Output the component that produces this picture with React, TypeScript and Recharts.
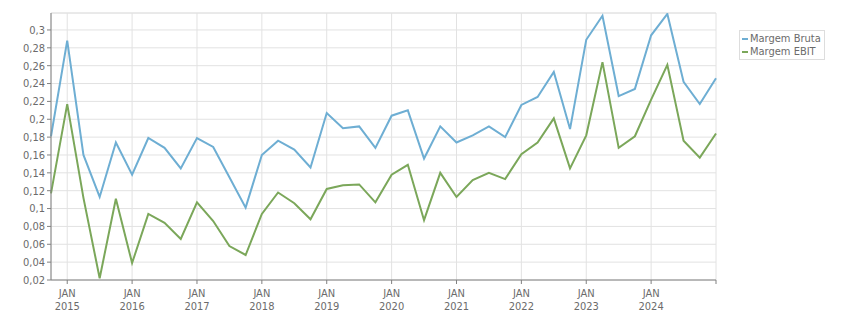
import { LineChart, Line, XAxis, YAxis, CartesianGrid, ReferenceLine } from 'recharts';

const FONT = "'DejaVu Sans Condensed', 'DejaVu Sans', sans-serif";

// trimestres, de out/2014 a jan/2025
const periods = [
  '2014-10',
  '2015-01', '2015-04', '2015-07', '2015-10',
  '2016-01', '2016-04', '2016-07', '2016-10',
  '2017-01', '2017-04', '2017-07', '2017-10',
  '2018-01', '2018-04', '2018-07', '2018-10',
  '2019-01', '2019-04', '2019-07', '2019-10',
  '2020-01', '2020-04', '2020-07', '2020-10',
  '2021-01', '2021-04', '2021-07', '2021-10',
  '2022-01', '2022-04', '2022-07', '2022-10',
  '2023-01', '2023-04', '2023-07', '2023-10',
  '2024-01', '2024-04', '2024-07', '2024-10',
  '2025-01',
];

const margemBruta = [
  0.181,
  0.288, 0.160, 0.113, 0.174,
  0.138, 0.179, 0.168, 0.145,
  0.179, 0.169, 0.135, 0.101,
  0.160, 0.176, 0.166, 0.146,
  0.207, 0.190, 0.192, 0.168,
  0.204, 0.210, 0.156, 0.192,
  0.174, 0.182, 0.192, 0.180,
  0.216, 0.225, 0.253, 0.189,
  0.289, 0.316, 0.226, 0.234,
  0.294, 0.318, 0.242, 0.217,
  0.246,
];

const margemEbit = [
  0.117,
  0.217, 0.112, 0.022, 0.111,
  0.039, 0.094, 0.084, 0.066,
  0.107, 0.086, 0.058, 0.048,
  0.094, 0.118, 0.106, 0.088,
  0.122, 0.126, 0.127, 0.107,
  0.138, 0.149, 0.087, 0.140,
  0.113, 0.132, 0.140, 0.133,
  0.161, 0.174, 0.201, 0.145,
  0.182, 0.264, 0.168, 0.181,
  0.222, 0.261, 0.176, 0.157,
  0.184,
];

const yTicks = [0.02, 0.04, 0.06, 0.08, 0.1, 0.12, 0.14, 0.16, 0.18, 0.2, 0.22, 0.24, 0.26, 0.28, 0.3];
// índices de janeiro + fim do eixo
const xTicks = [1, 5, 9, 13, 17, 21, 25, 29, 33, 37, 41];

const Y_MIN = 0.02;
const Y_MAX = 0.319;
const COLORS = { bruta: '#6eaed3', ebit: '#7ba75a' };

const data = periods.map((p, i) => ({
  i,
  period: p,
  bruta: margemBruta[i],
  ebit: margemEbit[i],
}));

const formatY = (v: number) => String(Number(v.toFixed(2))).replace('.', ',');

function XTick({ x, y, payload }: any) {
  if (payload.value === periods.length - 1) return <g />;
  const year = periods[payload.value].slice(0, 4);
  return (
    <g>
      <text x={x} y={y} textAnchor="middle" fill="#6b6b6b" fontSize={11} fontFamily={FONT}>
        <tspan x={x} dy={11}>JAN</tspan>
        <tspan x={x} dy={13}>{year}</tspan>
      </text>
    </g>
  );
}

function LegendBox() {
  const items = [
    { label: 'Margem Bruta', color: COLORS.bruta },
    { label: 'Margem EBIT', color: COLORS.ebit },
  ];
  return (
    <div
      style={{
        position: 'absolute',
        left: 739,
        top: 30,
        border: '1px solid #dddddd',
        padding: '1px 3px 1px 2px',
        fontFamily: FONT,
        fontSize: 11,
        color: '#6b6b6b',
        lineHeight: '13px',
        background: '#fff',
      }}
    >
      {items.map((it) => (
        <div key={it.label} style={{ display: 'flex', alignItems: 'center', whiteSpace: 'nowrap' }}>
          <span style={{ display: 'inline-block', width: 6, height: 2, background: it.color, marginRight: 2 }} />
          {it.label}
        </div>
      ))}
    </div>
  );
}

export default function App() {
  return (
    <div style={{ position: 'absolute', left: 0, top: 0, width: 851, height: 313, background: '#fff' }}>
      <LineChart width={851} height={313} data={data} margin={{ top: 13, right: 135, bottom: 0, left: 0 }}>
        <CartesianGrid stroke="#e2e2e2" strokeWidth={1} />
        <ReferenceLine y={Y_MAX} stroke="#e2e2e2" />
        <XAxis
          dataKey="i"
          type="number"
          domain={[0, periods.length - 1]}
          ticks={xTicks}
          interval={0}
          height={33}
          tickSize={4}
          tickMargin={2}
          stroke="#808080"
          tick={<XTick />}
        />
        <YAxis
          type="number"
          domain={[Y_MIN, Y_MAX]}
          allowDataOverflow
          ticks={yTicks}
          interval={0}
          width={51}
          tickSize={4}
          tickMargin={2}
          stroke="#808080"
          tickFormatter={formatY}
          tick={{ fill: '#6b6b6b', fontSize: 11, fontFamily: FONT }}
        />
        <Line
          type="linear"
          dataKey="bruta"
          name="Margem Bruta"
          stroke={COLORS.bruta}
          strokeWidth={2}
          dot={false}
          isAnimationActive={false}
        />
        <Line
          type="linear"
          dataKey="ebit"
          name="Margem EBIT"
          stroke={COLORS.ebit}
          strokeWidth={2}
          dot={false}
          isAnimationActive={false}
        />
      </LineChart>
      <LegendBox />
    </div>
  );
}
